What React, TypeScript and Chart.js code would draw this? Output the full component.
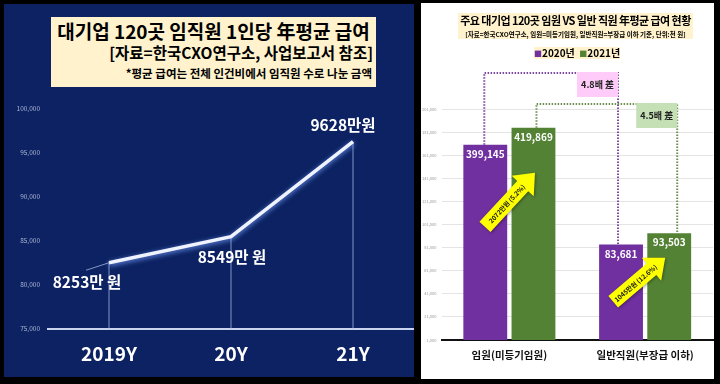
import React, { useEffect, useRef } from "react";
import { Chart, registerables } from "chart.js";

Chart.register(...registerables);

// ---------- data: left line chart (unit: 천 원) ----------
const lineCategories = ["2019Y", "20Y", "21Y"];
const avgSalary = [82530, 85490, 96280];
const avgSalaryLabels = ["8253만 원", "8549만 원", "9628만원"];
const lineAxisTicks = [75000, 80000, 85000, 90000, 95000, 100000];

// ---------- data: right bar chart (unit: 천 원) ----------
const barCategories = ["임원(미등기임원)", "일반직원(부장급 이하)"];
const seriesNames = ["2020년", "2021년"];
const salary2020 = [399145, 83681];
const salary2021 = [419869, 93503];
// bar heights as drawn against the printed axis (executive bars are drawn on a compressed scale)
const barHeight2020 = [170100, 83681];
const barHeight2021 = [184700, 93503];
const barAxisTicks = [1000, 21000, 41000, 61000, 81000, 101000, 121000, 141000, 161000, 181000, 201000];
const increaseLabels = ["2072만원 (5.2%)", "1045만원 (12.6%)"];
const ratioLabels = ["4.8배 差", "4.5배 差"];

const FONT = '"Noto Sans CJK KR", "Noto Sans", sans-serif';
const NAVY = "#0c2262";
const CREAM = "#fff2cc";
const PURPLE = "#7030a0";
const GREEN = "#548235";

const fmt = (v: number) => Number(v).toLocaleString("en-US");

export default function App() {
  const leftRef = useRef<HTMLCanvasElement | null>(null);
  const rightRef = useRef<HTMLCanvasElement | null>(null);

  useEffect(() => {
    const glowPlugin = {
      id: "glow",
      beforeDatasetDraw(chart: any) {
        const ctx = chart.ctx;
        ctx.save();
        ctx.shadowColor = "rgba(120,160,255,0.9)";
        ctx.shadowBlur = 5;
        ctx.shadowOffsetY = 1.5;
      },
      afterDatasetDraw(chart: any) {
        chart.ctx.restore();
      },
    };

    const dropLinesPlugin = {
      id: "drops",
      beforeDatasetsDraw(chart: any) {
        const ctx = chart.ctx;
        const pts = chart.getDatasetMeta(0).data;
        ctx.save();
        ctx.strokeStyle = "rgba(170,188,230,0.75)";
        ctx.lineWidth = 1;
        pts.forEach((p: any) => {
          ctx.beginPath();
          ctx.moveTo(p.x, p.y);
          ctx.lineTo(p.x, chart.chartArea.bottom);
          ctx.stroke();
        });
        const p0 = pts[0];
        ctx.beginPath();
        ctx.moveTo(p0.x - 23, p0.y + 7.5);
        ctx.lineTo(p0.x, p0.y);
        ctx.stroke();
        ctx.restore();
      },
    };

    const lineLabelsPlugin = {
      id: "lineLabels",
      afterDatasetsDraw(chart: any) {
        const ctx = chart.ctx;
        const pts = chart.getDatasetMeta(0).data;
        const offs = [
          [-22, 19.5],
          [1, 20],
          [-10, -17],
        ];
        ctx.save();
        ctx.font = `bold 15.5px ${FONT}`;
        ctx.fillStyle = "#ffffff";
        ctx.textAlign = "center";
        ctx.textBaseline = "middle";
        pts.forEach((p: any, i: number) => {
          ctx.fillText(avgSalaryLabels[i], p.x + offs[i][0], p.y + offs[i][1]);
        });
        ctx.restore();
      },
    };

    const left = new Chart(leftRef.current as HTMLCanvasElement, {
      type: "line",
      data: {
        labels: lineCategories,
        datasets: [
          {
            data: avgSalary,
            borderColor: "#eef3ff",
            borderWidth: 3.5,
            pointRadius: 0,
            tension: 0,
            fill: false,
          },
        ],
      },
      options: {
        responsive: false,
        animation: false,
        devicePixelRatio: 1,
        layout: { padding: { top: 105, left: 0, right: 0, bottom: 0 } },
        plugins: { legend: { display: false }, tooltip: { enabled: false } },
        scales: {
          x: {
            offset: true,
            grid: { display: false, drawTicks: false },
            border: { display: true, color: "#c9d3ee", width: 2 },
            ticks: {
              color: "#ffffff",
              font: { size: 19, weight: "bold", family: FONT },
              padding: 13,
              maxRotation: 0,
              autoSkip: false,
            },
            afterFit: (s: any) => {
              s.height = 48;
            },
          },
          y: {
            min: lineAxisTicks[0],
            max: lineAxisTicks[lineAxisTicks.length - 1],
            grid: { display: false, drawTicks: false },
            border: { display: false },
            afterBuildTicks: (s: any) => {
              s.ticks = lineAxisTicks.map((v) => ({ value: v }));
            },
            ticks: {
              color: "#a9b4d4",
              font: { size: 6.5, family: FONT },
              padding: 8,
              callback: (v: any) => fmt(v),
            },
            afterFit: (s: any) => {
              s.width = 44;
            },
          },
        },
      } as any,
      plugins: [dropLinesPlugin, glowPlugin, lineLabelsPlugin],
    });

    const drawDotted = (ctx: any, color: string, pts: number[][]) => {
      ctx.save();
      ctx.strokeStyle = color;
      ctx.lineWidth = 2;
      ctx.setLineDash([1.5, 1.5]);
      ctx.beginPath();
      ctx.moveTo(pts[0][0], pts[0][1]);
      for (let i = 1; i < pts.length; i++) ctx.lineTo(pts[i][0], pts[i][1]);
      ctx.stroke();
      ctx.restore();
    };

    const drawBox = (ctx: any, x: number, y: number, w: number, h: number, bg: string, text: string) => {
      ctx.save();
      ctx.fillStyle = bg;
      ctx.fillRect(x, y, w, h);
      ctx.fillStyle = "#222";
      ctx.font = `bold 9px ${FONT}`;
      ctx.textAlign = "center";
      ctx.textBaseline = "middle";
      ctx.fillText(text, x + w / 2, y + h / 2 + 0.5);
      ctx.restore();
    };

    const drawArrow = (ctx: any, tx: number, ty: number, hx: number, hy: number, text: string) => {
      const dx = hx - tx;
      const dy = hy - ty;
      const L = Math.sqrt(dx * dx + dy * dy);
      const ang = Math.atan2(dy, dx);
      const sw = 7.5;
      const hw = 15;
      const hl = 18;
      ctx.save();
      ctx.translate(tx, ty);
      ctx.rotate(ang);
      ctx.shadowColor = "rgba(0,0,0,0.35)";
      ctx.shadowBlur = 3;
      ctx.shadowOffsetX = 1;
      ctx.shadowOffsetY = 1;
      ctx.fillStyle = "#ffff00";
      ctx.beginPath();
      ctx.moveTo(0, -sw);
      ctx.lineTo(L - hl, -sw);
      ctx.lineTo(L - hl, -hw);
      ctx.lineTo(L, 0);
      ctx.lineTo(L - hl, hw);
      ctx.lineTo(L - hl, sw);
      ctx.lineTo(0, sw);
      ctx.closePath();
      ctx.fill();
      ctx.shadowColor = "transparent";
      ctx.fillStyle = "#111";
      ctx.font = `bold 6.5px ${FONT}`;
      ctx.textAlign = "center";
      ctx.textBaseline = "middle";
      ctx.fillText(text, (L - hl) / 2 + 4, 0.5);
      ctx.restore();
    };

    const barDecorPlugin = {
      id: "barDecor",
      afterDatasetsDraw(chart: any) {
        const ctx = chart.ctx;
        const m0 = chart.getDatasetMeta(0).data;
        const m1 = chart.getDatasetMeta(1).data;
        const top = chart.chartArea.top;

        ctx.save();
        ctx.font = `bold 10px ${FONT}`;
        ctx.fillStyle = "#ffffff";
        ctx.textAlign = "center";
        ctx.textBaseline = "middle";
        m0.forEach((b: any, i: number) => ctx.fillText(fmt(salary2020[i]), b.x, b.y + 9.5));
        m1.forEach((b: any, i: number) => ctx.fillText(fmt(salary2021[i]), b.x, b.y + 9.5));
        ctx.restore();

        const px1 = m0[0].x - 1;
        const px2 = m0[1].x - 3;
        const py = top - 36;
        drawDotted(ctx, "#7a4aa0", [
          [px1, m0[0].y],
          [px1, py],
          [px2, py],
          [px2, m0[1].y],
        ]);
        const gx1 = m1[0].x + 3;
        const gx2 = m1[1].x + 8;
        const gy = top - 5;
        drawDotted(ctx, "#6f8f52", [
          [gx1, m1[0].y],
          [gx1, gy],
          [gx2, gy],
          [gx2, m1[1].y],
        ]);
        drawBox(ctx, px2 - 41, py - 1, 41, 25, "#ffccfa", ratioLabels[0]);
        drawBox(ctx, gx2 - 41, gy - 1, 41, 25, "#c5e0b4", ratioLabels[1]);

        const t1x = m1[0].x + 1.5;
        const t1y = m1[0].y + 45;
        drawArrow(ctx, t1x - 50, t1y + 54, t1x, t1y, increaseLabels[0]);
        const t2x = m1[1].x - 4;
        const t2y = m1[1].y + 24.5;
        drawArrow(ctx, t2x - 52, t2y + 44, t2x, t2y, increaseLabels[1]);
      },
    };

    const right = new Chart(rightRef.current as HTMLCanvasElement, {
      type: "bar",
      data: {
        labels: barCategories,
        datasets: [
          {
            label: seriesNames[0],
            data: barHeight2020,
            backgroundColor: PURPLE,
            categoryPercentage: 0.71,
            barPercentage: 0.91,
          },
          {
            label: seriesNames[1],
            data: barHeight2021,
            backgroundColor: GREEN,
            categoryPercentage: 0.71,
            barPercentage: 0.91,
          },
        ],
      },
      options: {
        responsive: false,
        animation: false,
        devicePixelRatio: 1,
        layout: { padding: { top: 109, left: 0, right: 3, bottom: 0 } },
        plugins: { legend: { display: false }, tooltip: { enabled: false } },
        scales: {
          x: {
            grid: { display: false, drawTicks: false },
            border: { display: true, color: "#111", width: 2 },
            ticks: {
              color: "#111",
              font: { size: 10.5, weight: "bold", family: FONT },
              padding: 9,
              maxRotation: 0,
              autoSkip: false,
            },
            afterFit: (s: any) => {
              s.height = 44;
            },
          },
          y: {
            min: barAxisTicks[0],
            max: barAxisTicks[barAxisTicks.length - 1],
            grid: { color: "#e4e4e4", drawTicks: false },
            border: { display: false },
            afterBuildTicks: (s: any) => {
              s.ticks = barAxisTicks.map((v) => ({ value: v }));
            },
            ticks: {
              color: "#9a9a9a",
              font: { size: 4, family: FONT },
              padding: 5,
              callback: (v: any) => fmt(v),
            },
            afterFit: (s: any) => {
              s.width = 21.5;
            },
          },
        },
      } as any,
      plugins: [barDecorPlugin],
    });

    return () => {
      left.destroy();
      right.destroy();
    };
  }, []);

  const abs = (l: number, t: number, w: number, h: number, extra: any = {}) => ({
    position: "absolute" as const,
    left: l,
    top: t,
    width: w,
    height: h,
    ...extra,
  });

  return (
    <div style={{ position: "fixed", left: 0, top: 0, width: 720, height: 384, background: "#000", overflow: "hidden", fontFamily: FONT }}>
      <div style={abs(4, 4, 410, 373, { background: NAVY })} />
      <div style={abs(421, 3, 293, 376, { background: "#fff" })} />
      <canvas ref={leftRef} width={410} height={373} style={abs(4, 4, 410, 373, { display: "block" })} />
      <canvas ref={rightRef} width={296} height={384} style={abs(420, 0, 296, 384, { display: "block" })} />

      {/* left title box */}
      <div style={abs(51, 17, 325, 70, { background: CREAM, color: "#000" })}>
        <div style={{ position: "absolute", left: 0, right: 0, top: 2.5, fontSize: 19, lineHeight: "21px", fontWeight: 700, textAlign: "center", whiteSpace: "nowrap" }}>
          대기업 120곳 임직원 1인당 年평균 급여
        </div>
        <div style={{ position: "absolute", left: 0, right: 3, top: 26, fontSize: 15.5, lineHeight: "19px", fontWeight: 700, textAlign: "right", whiteSpace: "nowrap" }}>
          [자료=한국CXO연구소, 사업보고서 참조]
        </div>
        <div style={{ position: "absolute", left: 0, right: 4, top: 49.5, fontSize: 11.5, lineHeight: "13px", fontWeight: 700, textAlign: "right", whiteSpace: "nowrap" }}>
          *평균 급여는 전체 인건비에서 임직원 수로 나눈 금액
        </div>
      </div>

      {/* right title box */}
      <div style={abs(458, 13, 235, 26, { background: CREAM, color: "#000" })}>
        <div style={{ position: "absolute", left: 0, right: 0, top: 0.5, fontSize: 11, lineHeight: "13px", fontWeight: 700, letterSpacing: -0.55, textAlign: "center", whiteSpace: "nowrap" }}>
          주요 대기업 120곳 임원 VS 일반 직원 年평균 급여 현황
        </div>
        <div style={{ position: "absolute", left: 0, right: 0, top: 16.5, fontSize: 6.5, lineHeight: "8px", fontWeight: 700, textAlign: "center", whiteSpace: "nowrap" }}>
          [자료=한국CXO연구소, 임원=미등기임원, 일반직원=부장급 이하 기준, 단위:천 원]
        </div>
      </div>

      {/* legend */}
      <div style={abs(534, 47, 86, 12, { background: CREAM, color: "#000", fontSize: 10, lineHeight: "12px", fontWeight: 700, textAlign: "center", whiteSpace: "nowrap" })}>
        <span style={{ color: PURPLE, fontSize: 8 }}>■</span>
        {seriesNames[0]}
        {"\u00a0\u00a0"}
        <span style={{ color: GREEN, fontSize: 8 }}>■</span>
        {seriesNames[1]}
      </div>
    </div>
  );
}
